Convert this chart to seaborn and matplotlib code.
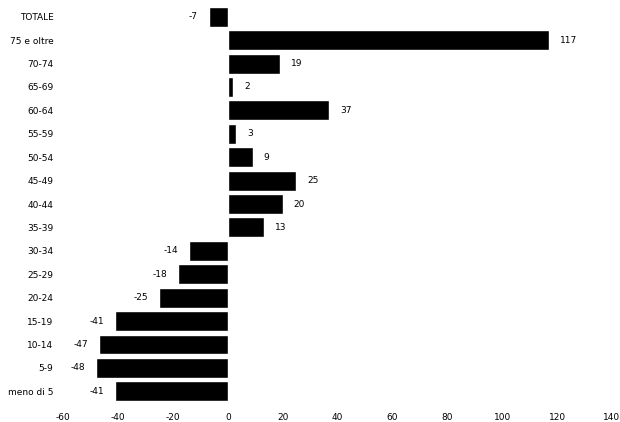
import pandas as pd
import seaborn as sns
import matplotlib.pyplot as plt

# age groups and change values
age_groups = ['TOTALE', '75 e oltre', '70-74', '65-69', '60-64', '55-59', '50-54',
              '45-49', '40-44', '35-39', '30-34', '25-29', '20-24', '15-19',
              '10-14', '5-9', 'meno di 5']
values = [-7, 117, 19, 2, 37, 3, 9, 25, 20, 13, -14, -18, -25, -41, -47, -48, -41]
x_ticks = [-60, -40, -20, 0, 20, 40, 60, 80, 100, 120, 140]

df = pd.DataFrame({'Classe': age_groups, 'Valore': values})

sns.set_style("white")
plt.rcParams['axes.unicode_minus'] = False
fig, ax = plt.subplots(figsize=(6.2, 4.22), dpi=100)
fig.subplots_adjust(left=0.102, right=0.987, top=0.988, bottom=0.045)

sns.barplot(data=df, y='Classe', x='Valore', orient='h', color='black',
            saturation=1, width=0.85, ax=ax)

# value labels at bar ends
for cont in ax.containers:
    ax.bar_label(cont, labels=[str(v) for v in values], padding=8,
                 fontsize=6.5, color='black')

ax.set_xlim(-60, 140)
ax.set_xticks(x_ticks)
ax.tick_params(axis='both', labelsize=6.5, length=0, pad=7, labelcolor='black')
ax.set_xlabel('')
ax.set_ylabel('')
sns.despine(ax=ax, left=True, bottom=True)

plt.savefig('out.png', dpi=100)
